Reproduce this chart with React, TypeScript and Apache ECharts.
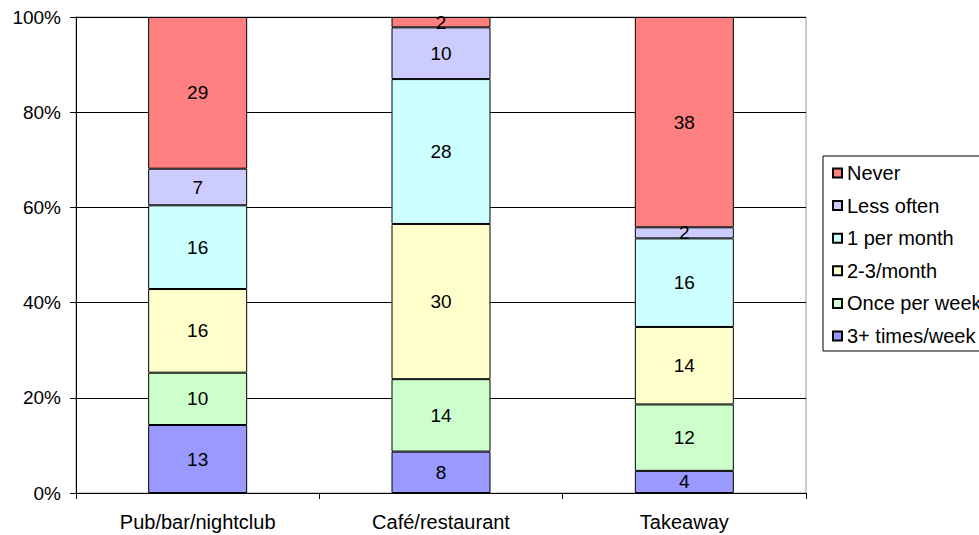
import React, { useEffect, useRef } from "react";
import * as echarts from "echarts";

const categories = ["Pub/bar/nightclub", "Café/restaurant", "Takeaway"];

// Stack order, bottom to top
const seriesNames = ["3+ times/week", "Once per week", "2-3/month", "1 per month", "Less often", "Never"];
const seriesColors = ["#9999FF", "#CCFFCC", "#FFFFCC", "#CCFFFF", "#CCCCFF", "#FF8080"];

const threePlusWeek = [13, 8, 4];
const oncePerWeek = [10, 14, 12];
const twoThreeMonth = [16, 30, 14];
const onePerMonth = [16, 28, 16];
const lessOften = [7, 10, 2];
const never = [29, 2, 38];

const seriesValues = [threePlusWeek, oncePerWeek, twoThreeMonth, onePerMonth, lessOften, never];

const yTicks = [0, 20, 40, 60, 80, 100];

const FONT = "'Liberation Sans', Arial, Helvetica, sans-serif";
const FS = 20;

export default function App() {
  const ref = useRef<HTMLDivElement>(null);

  useEffect(() => {
    if (!ref.current) return;
    const chart = echarts.init(ref.current, null, { renderer: "svg" });

    const totals = categories.map((_, i) =>
      seriesValues.reduce((s, arr) => s + arr[i], 0)
    );

    const series = seriesNames.map((name, si) => ({
      name,
      type: "bar",
      stack: "total",
      barWidth: 99,
      itemStyle: { color: seriesColors[si], borderColor: "#000", borderWidth: 1 },
      label: {
        show: true,
        position: "inside",
        color: "#000",
        fontSize: 19,
        fontFamily: FONT,
        formatter: (p: any) => String(p.data.raw),
      },
      data: seriesValues[si].map((v, ci) => ({
        value: (v / totals[ci]) * 100,
        raw: v,
      })),
    }));

    chart.setOption({
      animation: false,
      backgroundColor: "#fff",
      grid: {
        left: 76,
        top: 17,
        width: 730,
        height: 476,
        show: true,
        borderColor: "#999",
        borderWidth: 1,
      },
      legend: {
        orient: "vertical",
        left: 823,
        top: 156,
        data: [...seriesNames].reverse(),
        icon: "rect",
        itemWidth: 9,
        itemHeight: 9,
        itemGap: 12.6,
        padding: [7, 20, 5, 9],
        borderColor: "#000",
        borderWidth: 1,
        textStyle: { fontSize: FS, fontFamily: FONT, color: "#000", lineHeight: 20 },
        selectedMode: false,
      },
      xAxis: {
        type: "category",
        data: categories,
        axisLine: { lineStyle: { color: "#000" } },
        axisTick: { show: true, length: 6, inside: false, lineStyle: { color: "#000" } },
        axisLabel: { color: "#000", fontSize: FS, fontFamily: FONT, margin: 19 },
      },
      yAxis: {
        type: "value",
        min: 0,
        max: 100,
        interval: 20,
        axisLine: { show: true, lineStyle: { color: "#000" } },
        axisTick: { show: true, length: 6, lineStyle: { color: "#000" } },
        axisLabel: {
          color: "#000",
          fontSize: 19,
          fontFamily: FONT,
          margin: 15,
          formatter: (v: number) => (yTicks.includes(v) ? `${v}%` : ""),
        },
        splitLine: { show: true, lineStyle: { color: "#000", width: 1 } },
      },
      series,
    });

    return () => chart.dispose();
  }, []);

  return (
    <div
      ref={ref}
      style={{ position: "absolute", left: 0, top: 0, width: 979, height: 535 }}
    />
  );
}
